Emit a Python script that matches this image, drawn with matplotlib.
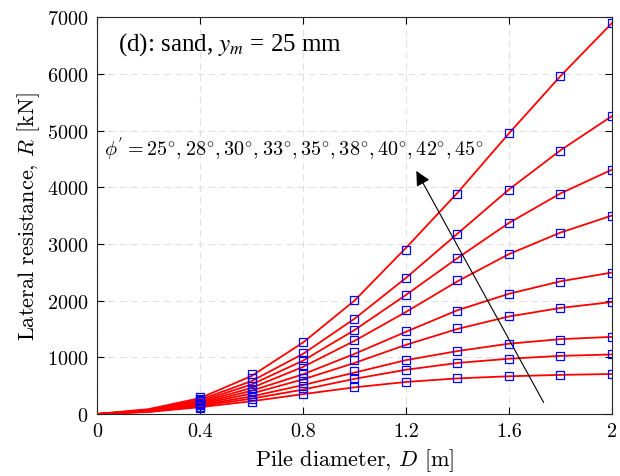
import numpy as np
import matplotlib.pyplot as plt

plt.rcParams['mathtext.fontset'] = 'cm'
plt.rcParams['font.family'] = 'cmr10'
plt.rcParams['axes.formatter.use_mathtext'] = True

# fitted curves (lines)
D_line = [0, 0.2, 0.4, 0.6, 0.8, 1.0, 1.2, 1.4, 1.6, 1.8, 2.0]
fit_25 = [0, 35, 120, 225, 350, 470, 565, 628, 665, 690, 705]
fit_28 = [0, 40, 140, 270, 430, 620, 780, 900, 975, 1025, 1050]
fit_30 = [0, 45, 155, 310, 510, 730, 950, 1110, 1240, 1320, 1360]
fit_33 = [0, 50, 170, 360, 610, 900, 1220, 1500, 1720, 1870, 1975]
fit_35 = [0, 55, 185, 410, 700, 1060, 1450, 1830, 2120, 2340, 2495]
fit_38 = [0, 60, 205, 460, 830, 1290, 1800, 2340, 2820, 3200, 3500]
fit_40 = [0, 65, 225, 520, 940, 1480, 2100, 2750, 3370, 3890, 4310]
fit_42 = [0, 75, 250, 580, 1060, 1680, 2400, 3180, 3960, 4650, 5255]
fit_45 = [0, 85, 280, 670, 1260, 2000, 2930, 3900, 4950, 5960, 6895]

# computed points (markers)
D_pts = [0.4, 0.6, 0.8, 1.0, 1.2, 1.4, 1.6, 1.8, 2.0]
pts_25 = [100, 217, 358, 481, 570, 629, 665, 688, 705]
pts_28 = [125, 270, 458, 635, 782, 899, 970, 1017, 1053]
pts_30 = [150, 325, 547, 753, 958, 1117, 1229, 1310, 1363]
pts_33 = [175, 380, 640, 947, 1252, 1516, 1722, 1863, 1970]
pts_35 = [200, 440, 723, 1088, 1469, 1822, 2122, 2333, 2492]
pts_38 = [225, 500, 846, 1310, 1834, 2363, 2821, 3197, 3497]
pts_40 = [250, 565, 958, 1487, 2104, 2757, 3368, 3879, 4308]
pts_42 = [270, 630, 1076, 1681, 2398, 3180, 3955, 4643, 5255]
pts_45 = [295, 700, 1275, 2005, 2886, 3885, 4955, 5960, 6895]

fits = [fit_25, fit_28, fit_30, fit_33, fit_35, fit_38, fit_40, fit_42, fit_45]
pts = [pts_25, pts_28, pts_30, pts_33, pts_35, pts_38, pts_40, pts_42, pts_45]

fig = plt.figure(figsize=(6.2, 4.77), dpi=100)
ax = fig.add_axes([0.1565, 0.130, 0.8305, 0.832])

for f in fits:
    ax.plot(D_line, f, color='red', lw=1.3, zorder=3)
for p in pts:
    ax.plot(D_pts, p, ls='none', marker='s', ms=6, mfc='none', mec='blue', mew=0.9, zorder=4)

ax.annotate('', xy=(1.235, 4330), xytext=(1.74, 160),
            arrowprops=dict(arrowstyle='-|>', color='black', lw=0.8,
                            mutation_scale=22))
ax.text(0.027, 4709,
        r"$\phi^{'} = 25^{\circ}, 28^{\circ}, 30^{\circ}, 33^{\circ}, 35^{\circ}, 38^{\circ}, 40^{\circ}, 42^{\circ}, 45^{\circ}$",
        fontsize=14.5, va='center', ha='left')
ax.text(0.08, 6540, r"(d): sand, $\mathit{y}_{m}$ = 25 mm", family='Liberation Serif',
        math_fontfamily='stix', fontsize=18, va='center', ha='left')

ax.set_xlim(0, 2)
ax.set_ylim(0, 7000)
ax.set_xticks([0, 0.4, 0.8, 1.2, 1.6, 2.0])
ax.set_xticklabels(['0', '0.4', '0.8', '1.2', '1.6', '2'])
ax.set_yticks(np.arange(0, 7001, 1000))
ax.tick_params(direction='in', top=True, right=True, labelsize=14.5, length=5, pad=6)
ax.grid(True, ls=(0, (6, 4)), color='#e0e0e0', lw=0.8)
ax.set_axisbelow(True)
ax.set_xlabel(r"Pile diameter, $D$ [m]", fontsize=16)
ax.set_ylabel(r"Lateral resistance, $R$ [kN]", fontsize=16)
for s in ax.spines.values():
    s.set_color('#262626')

fig.savefig('out.png', dpi=100)
